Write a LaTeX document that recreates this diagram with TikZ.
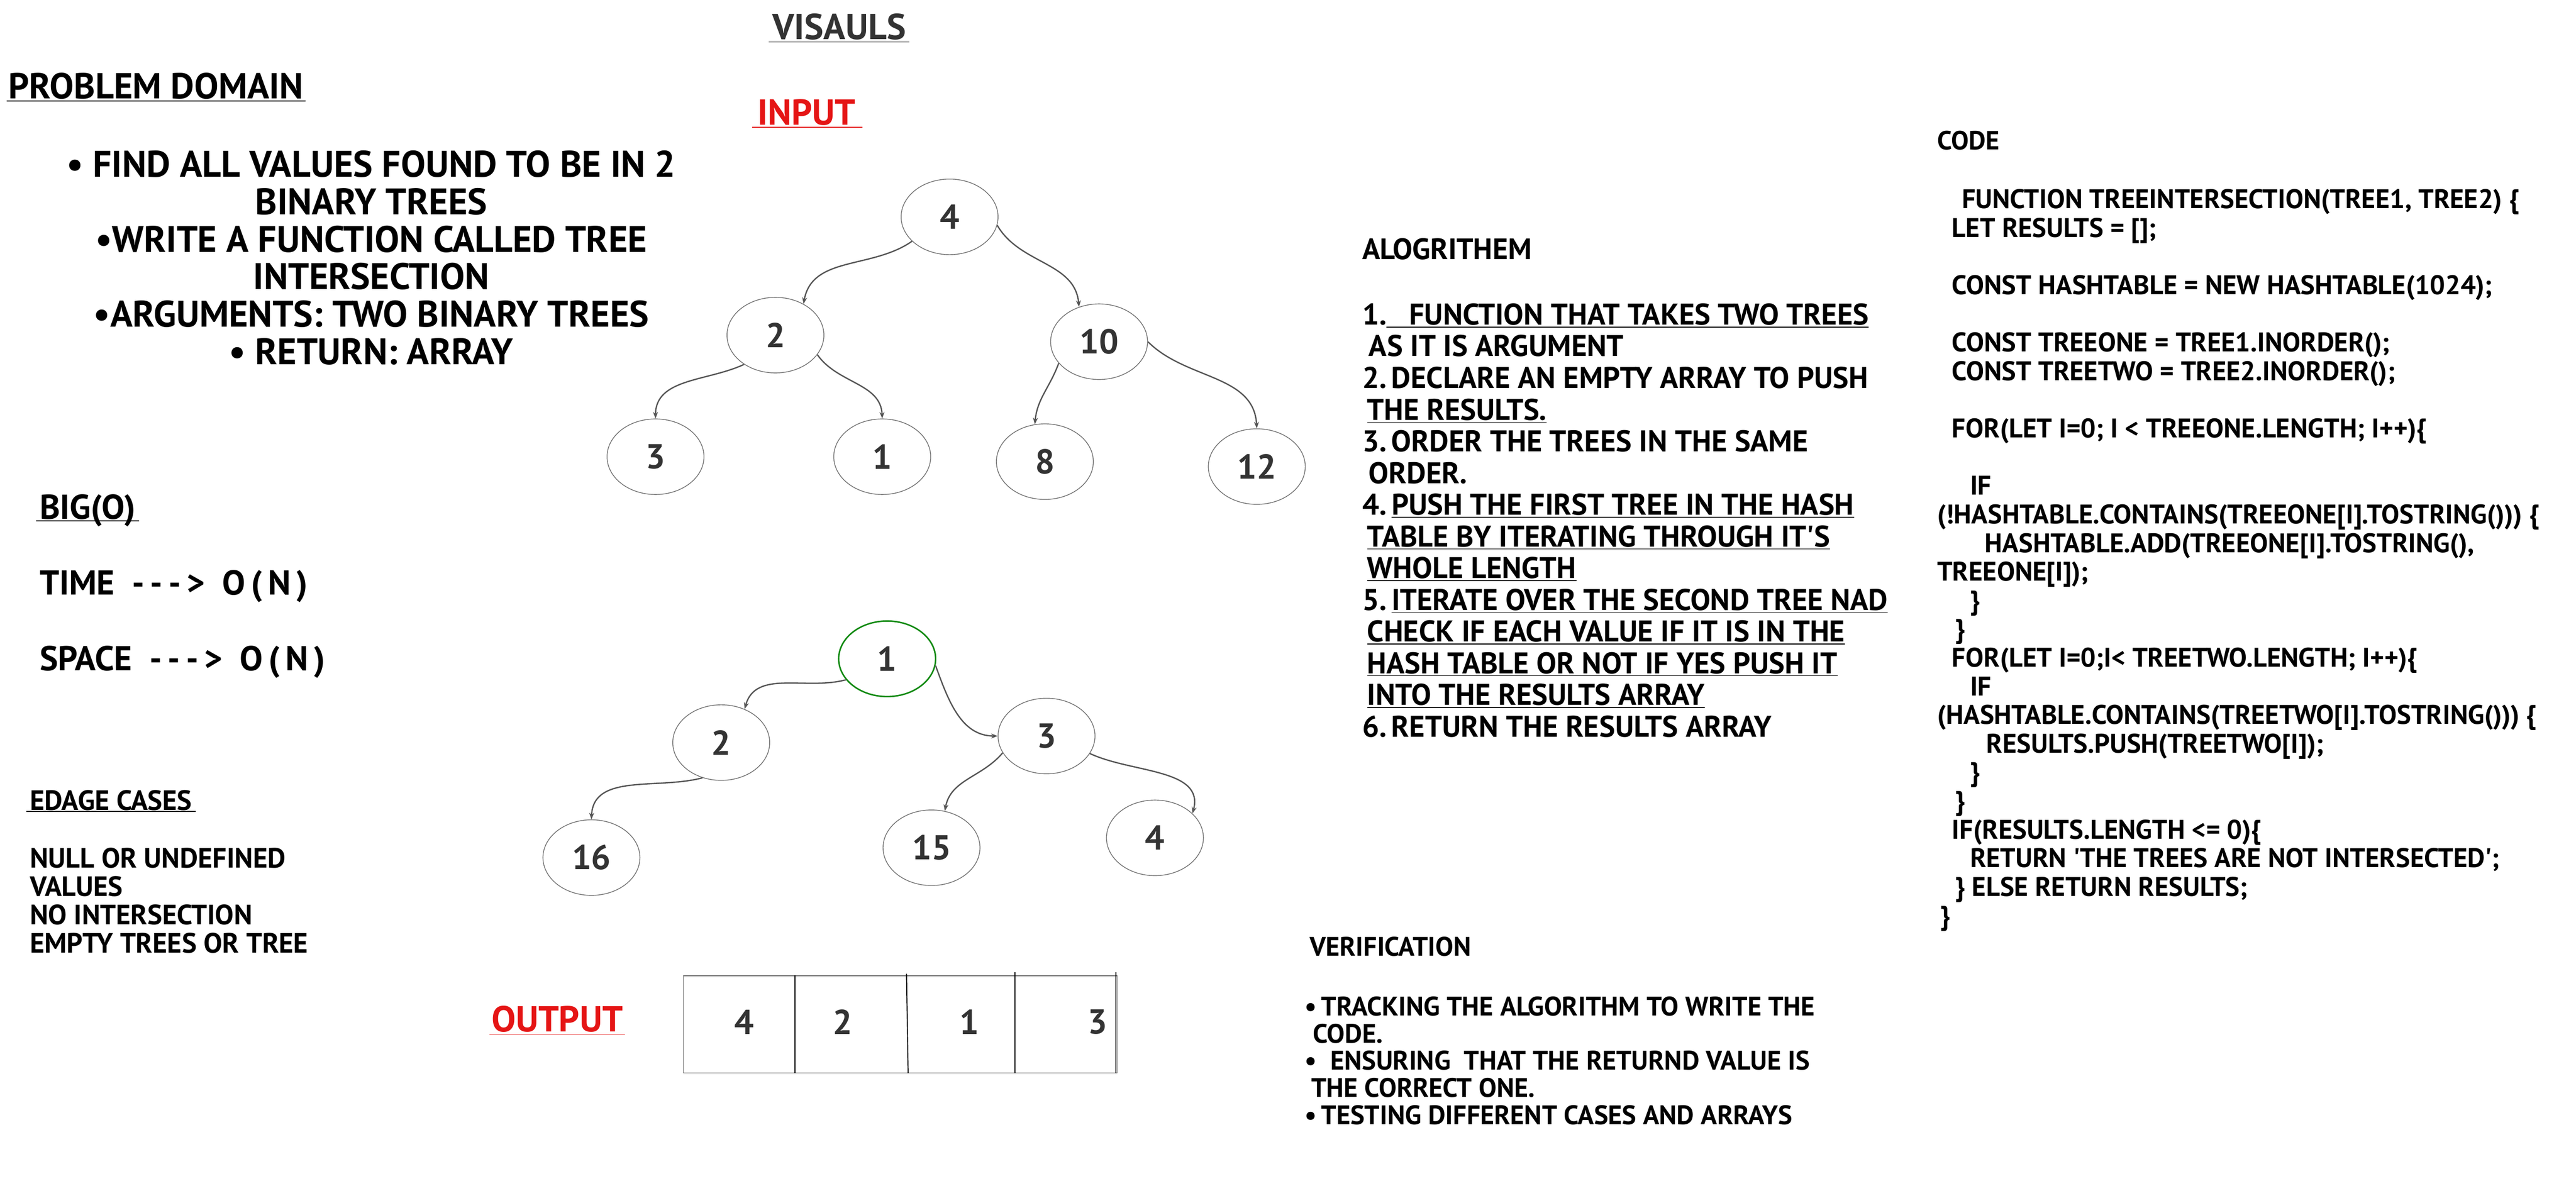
\documentclass[tikz,border=0pt]{standalone}
\usepackage{fontspec}
\setmainfont{PT Sans}
\usetikzlibrary{shapes.geometric,arrows.meta}
\definecolor{inkgray}{HTML}{333333}
\definecolor{linkgray}{HTML}{555555}
\definecolor{rimgray}{HTML}{707070}
\definecolor{penred}{HTML}{E51515}
\definecolor{rootgreen}{HTML}{128A12}
\newcommand{\inkfont}[2]{\fontsize{#1}{#2}\selectfont\bfseries}
\newcommand{\underink}[1]{\setbox0\hbox{#1}\rlap{\rule[-1.6pt]{\wd0}{0.5pt}}\box0}

\begin{document}
\begin{tikzpicture}[x=1pt,y=1pt]
        %
        % `heading' is used for the underlined titles, `prose' for plain text.
        % `treenode' holds one value of a tree, `branch' links two of them.
        \tikzstyle{heading} = [inner sep=0pt,anchor=base west,font=\inkfont{22}{26}]
        \tikzstyle{prose} = [inner sep=0pt,anchor=north west,align=left]
        \tikzstyle{underrule} = [line width=0.5pt]
        \tikzstyle{treenode} = [draw=rimgray,line width=0.45pt,shape=ellipse,minimum width=59pt,minimum height=46pt,inner sep=0pt,text=inkgray,font=\inkfont{21}{21}]
        \tikzstyle{branch} = [draw=linkgray,line width=0.8pt,-{Stealth[length=4pt,width=3pt]}]
        \tikzstyle{cellvalue} = [inner sep=0pt,text=inkgray,font=\inkfont{21}{21}]
        \useasboundingbox (0,0) rectangle (1568,-721.8);
        %
        % Problem domain
        \node[heading] (probtitle) at (5,-60) {PROBLEM DOMAIN};
        \draw[underrule] ([shift={(-1pt,-1.5pt)}]probtitle.base west) -- ([shift={(1pt,-1.5pt)}]probtitle.base east);
        \node[prose,anchor=north,align=center,font=\inkfont{22.5}{22.8}] (probbody) at (226,-91.5) {%
        • FIND ALL VALUES FOUND TO BE IN 2\\
        BINARY TREES\\
        •WRITE A FUNCTION CALLED TREE\\
        INTERSECTION\\
        •ARGUMENTS: TWO BINARY TREES\\
        • RETURN: ARRAY};
        %
        % Big O
        \node[heading,font=\inkfont{21}{24}] (bigtitle) at (24,-316) {BIG(O)};
        \draw[underrule] ([shift={(-2pt,-1pt)}]bigtitle.base west) -- ([shift={(2pt,-1pt)}]bigtitle.base east);
        \node[heading,font=\inkfont{21}{24}] (timeline) at (24,-362) {TIME\ \ {-}\,{-}\,{-}\,>\ \ O\,(\,N\,)};
        \node[heading,font=\inkfont{21}{24}] (spaceline) at (24,-408) {SPACE\ \ {-}\,{-}\,{-}\,>\ \ O\,(\,N\,)};
        %
        % Edge cases
        \node[heading,font=\inkfont{17}{17.2}] (edgetitle) at (18,-493) {EDAGE CASES};
        \draw[underrule] ([shift={(-2pt,-1pt)}]edgetitle.base west) -- ([shift={(2pt,-1pt)}]edgetitle.base east);
        \node[prose,font=\inkfont{17}{17.2}] (edgebody) at (18,-516) {%
        NULL OR UNDEFINED\\
        VALUES\\
        NO INTERSECTION\\
        EMPTY TREES OR TREE};
        %
        % Visuals and input tree
        \node[heading,text=inkgray] (vistitle) at (470,-24) {VISAULS};
        \draw[underrule,inkgray] ([shift={(-2pt,-1.5pt)}]vistitle.base west) -- ([shift={(2pt,-1.5pt)}]vistitle.base east);
        \node[heading,text=penred] (intitle) at (461,-76) {INPUT};
        \draw[underrule,penred] ([shift={(-3pt,-1.5pt)}]intitle.base west) -- ([shift={(4pt,-1.5pt)}]intitle.base east);
        \node[treenode] (a4) at (578,-132) {4};
        \node[treenode] (a2) at (472,-204) {2};
        \node[treenode] (a10) at (669,-208) {10};
        \node[treenode] (a3) at (399,-278) {3};
        \node[treenode] (a1) at (537,-278) {1};
        \node[treenode] (a8) at (636,-281) {8};
        \node[treenode] (a12) at (765,-284) {12};
        \draw[branch] (a4.213) to[out=215,in=80] (a2.48);
        \draw[branch] (a4.-10) to[out=-60,in=95] (a10.120);
        \draw[branch] (a2.223) to[out=205,in=90] (a3.north);
        \draw[branch] (a2.-25) to[out=-55,in=92] (a1.north);
        \draw[branch] (a10.208) to[out=250,in=85] (a8.105);
        \draw[branch] (a10.east) to[out=-45,in=93] (a12.north);
        %
        % Second tree
        \node[treenode,draw=rootgreen,line width=0.9pt] (b1) at (540,-401) {1};
        \node[treenode] (b2) at (439,-452) {2};
        \node[treenode] (b3) at (637,-448) {3};
        \node[treenode] (b16) at (360,-522) {16};
        \node[treenode] (b15) at (567,-516) {15};
        \node[treenode] (b4) at (703,-510) {4};
        \draw[branch] (b1.207) to[out=195,in=75] (b2.55);
        \draw[branch] (b1.-8) to[out=-70,in=180] (b3.west);
        \draw[branch] (b2.242) to[out=195,in=88] (b16.north);
        \draw[branch] (b3.201) to[out=230,in=80] (b15.70);
        \draw[branch] (b3.-22) to[out=-25,in=75] (b4.33);
        %
        % Output array
        \node[heading,text=penred] (outtitle) at (299,-628) {OUTPUT};
        \draw[underrule,penred] ([shift={(-1pt,-1.5pt)}]outtitle.base west) -- ([shift={(1pt,-1.5pt)}]outtitle.base east);
        \node[draw=rimgray,line width=0.45pt,minimum width=264pt,minimum height=59pt,inner sep=0pt] (outbox) at (548,-623.5) {};
        \draw[line width=0.6pt] ([xshift=68pt]outbox.north west) -- ([xshift=68pt]outbox.south west);
        \draw[line width=0.6pt] ([xshift=136pt,yshift=1pt]outbox.north west) -- ([xshift=137pt]outbox.south west);
        \draw[line width=0.6pt] ([xshift=202pt,yshift=2pt]outbox.north west) -- ([xshift=202pt]outbox.south west);
        \draw[line width=0.6pt] ([xshift=-1pt,yshift=2pt]outbox.north east) -- ([xshift=-1pt]outbox.south east);
        \node[cellvalue] (out1) at (453,-622) {4};
        \node[cellvalue] (out2) at (513,-622) {2};
        \node[cellvalue] (out3) at (590,-622) {1};
        \node[cellvalue] (out4) at (668,-622) {3};
        %
        % Algorithm
        \node[heading,font=\inkfont{18}{19.3}] (algtitle) at (829,-158) {ALOGRITHEM};
        \node[prose,font=\inkfont{18.2}{19.3}] (algbody) at (829,-184.5) {%
        1.\underink{\ \ \ FUNCTION THAT TAKES TWO TREES}\\
        \hspace*{4pt}AS IT IS ARGUMENT\\
        2.\,DECLARE AN EMPTY ARRAY TO PUSH\\
        \hspace*{3pt}\underink{THE RESULTS.}\\
        3.\,ORDER THE TREES IN THE SAME\\
        \hspace*{4pt}ORDER.\\
        4.\,\underink{PUSH THE FIRST TREE IN THE HASH}\\
        \hspace*{3pt}\underink{TABLE BY ITERATING THROUGH IT\textquotesingle S}\\
        \hspace*{3pt}\underink{WHOLE LENGTH}\\
        5.\,\underink{ITERATE OVER THE SECOND TREE NAD}\\
        \hspace*{3pt}\underink{CHECK IF EACH VALUE IF IT IS IN THE}\\
        \hspace*{3pt}\underink{HASH TABLE OR NOT IF YES PUSH IT}\\
        \hspace*{3pt}\underink{INTO THE RESULTS ARRAY}\\
        6.\,RETURN THE RESULTS ARRAY};
        %
        % Verification
        \node[heading,font=\inkfont{16.3}{16.6}] (vertitle) at (797,-582) {VERIFICATION};
        \node[prose,font=\inkfont{16.3}{16.6}] (verbody) at (794,-606.3) {%
        •\,TRACKING THE ALGORITHM TO WRITE THE\\
        \hspace*{5pt}CODE.\\
        •\ \ ENSURING\ \ THAT THE RETURND VALUE IS\\
        \hspace*{4pt}THE CORRECT ONE.\\
        •\,TESTING DIFFERENT CASES AND ARRAYS};
        %
        % Code
        \node[heading,font=\inkfont{16}{17.44}] (codetitle) at (1179,-91) {CODE};
        \node[prose,font=\inkfont{16.4}{17.44}] (codebody) at (1179,-115) {%
        \hspace*{15pt}FUNCTION TREEINTERSECTION(TREE1, TREE2) \{\\
        \hspace*{9pt}LET RESULTS = [];\\
        \mbox{}\\
        \hspace*{9pt}CONST HASHTABLE = NEW HASHTABLE(1024);\\
        \mbox{}\\
        \hspace*{9pt}CONST TREEONE = TREE1.INORDER();\\
        \hspace*{9pt}CONST TREETWO = TREE2.INORDER();\\
        \mbox{}\\
        \hspace*{9pt}FOR(LET I=0; I < TREEONE.LENGTH; I++)\{\\
        \mbox{}\\
        \hspace*{20pt}IF\\
        (!HASHTABLE.CONTAINS(TREEONE[I].TOSTRING())) \{\\
        \hspace*{29pt}HASHTABLE.ADD(TREEONE[I].TOSTRING(),\\
        TREEONE[I]);\\
        \hspace*{20pt}\}\\
        \hspace*{11pt}\}\\
        \hspace*{9pt}FOR(LET I=0;I< TREETWO.LENGTH; I++)\{\\
        \hspace*{20pt}IF\\
        (HASHTABLE.CONTAINS(TREETWO[I].TOSTRING())) \{\\
        \hspace*{30pt}RESULTS.PUSH(TREETWO[I]);\\
        \hspace*{20pt}\}\\
        \hspace*{11pt}\}\\
        \hspace*{9pt}IF(RESULTS.LENGTH <= 0)\{\\
        \hspace*{20pt}RETURN \textquotesingle THE TREES ARE NOT INTERSECTED\textquotesingle;\\
        \hspace*{11pt}\} ELSE RETURN RESULTS;\\
        \hspace*{2pt}\}};
        %
\end{tikzpicture}
\end{document}
